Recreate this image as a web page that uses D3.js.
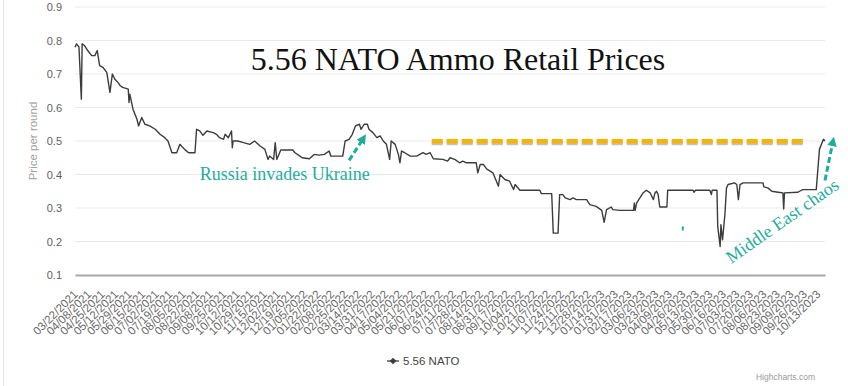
<!DOCTYPE html>
<html>
<head>
<meta charset="utf-8">
<script src="https://cdn.jsdelivr.net/npm/d3@7"></script>
<style>
  html, body { margin: 0; padding: 0; background: #fff; }
  svg { display: block; }
</style>
</head>
<body>
<div id="chart"></div>
<script>
// price per round
const dates = [
  "2021-03-22","2021-03-24","2021-03-27","2021-03-30","2021-03-31","2021-04-03","2021-04-07","2021-04-12",
  "2021-04-16","2021-04-19","2021-04-22","2021-04-26","2021-05-01","2021-05-05","2021-05-08","2021-05-11",
  "2021-05-15","2021-05-18","2021-05-21","2021-05-28","2021-05-29","2021-05-30","2021-06-03","2021-06-08",
  "2021-06-10","2021-06-14","2021-06-18","2021-06-24","2021-07-01","2021-07-07","2021-07-13","2021-07-17",
  "2021-07-22","2021-07-28","2021-08-01","2021-08-07","2021-08-12","2021-08-20","2021-08-22","2021-08-26",
  "2021-08-30","2021-09-04","2021-09-12","2021-09-16","2021-09-20","2021-09-25","2021-09-27","2021-10-01",
  "2021-10-05","2021-10-06","2021-10-07","2021-10-13","2021-10-20","2021-10-28","2021-11-03","2021-11-10",
  "2021-11-16","2021-11-20","2021-11-22","2021-11-27","2021-11-29","2021-12-01","2021-12-06","2021-12-21",
  "2021-12-24","2021-12-30","2022-01-02","2022-01-11","2022-01-17","2022-01-23","2022-01-30","2022-02-03",
  "2022-02-05","2022-02-07","2022-02-22","2022-02-25","2022-03-02","2022-03-06","2022-03-10","2022-03-15",
  "2022-03-17","2022-03-21","2022-03-25","2022-03-27","2022-04-01","2022-04-06","2022-04-10","2022-04-14",
  "2022-04-18","2022-04-22","2022-04-24","2022-04-29","2022-05-03","2022-05-05","2022-05-07","2022-05-11",
  "2022-05-18","2022-05-26","2022-06-03","2022-06-07","2022-06-12","2022-06-16","2022-06-28","2022-07-04",
  "2022-07-07","2022-07-13","2022-07-19","2022-07-23","2022-07-28","2022-08-09","2022-08-11","2022-08-14",
  "2022-08-18","2022-08-22","2022-08-30","2022-09-06","2022-09-08","2022-09-14","2022-09-20","2022-09-25",
  "2022-09-27","2022-10-03","2022-10-28","2022-10-30","2022-11-12","2022-11-14","2022-11-20","2022-11-22",
  "2022-11-26","2022-11-29","2022-12-05","2022-12-09","2022-12-13","2022-12-26","2022-12-30","2023-01-07",
  "2023-01-14","2023-01-17","2023-01-20","2023-01-26","2023-01-28","2023-02-06","2023-02-23","2023-02-24",
  "2023-02-25","2023-02-27","2023-03-03","2023-03-07","2023-03-11","2023-03-16","2023-03-20","2023-03-22",
  "2023-03-24","2023-03-26","2023-03-28","2023-04-06","2023-04-07","2023-05-09","2023-05-10","2023-05-12",
  "2023-05-30","2023-06-01","2023-06-02","2023-06-08","2023-06-09","2023-06-12","2023-06-13","2023-06-15",
  "2023-06-18","2023-06-20","2023-06-22","2023-06-30","2023-07-03","2023-07-05","2023-07-07","2023-07-11",
  "2023-08-05","2023-08-06","2023-08-11","2023-08-16","2023-08-24","2023-08-30","2023-08-31","2023-09-01",
  "2023-09-18","2023-09-20","2023-09-24","2023-10-11","2023-10-15","2023-10-20","2023-10-22"
];
const prices = [
  0.78,0.79,0.78,0.625,0.79,0.785,0.77,0.755,
  0.755,0.77,0.725,0.72,0.705,0.645,0.70,0.685,
  0.675,0.665,0.66,0.655,0.615,0.64,0.595,0.565,
  0.545,0.57,0.55,0.545,0.535,0.52,0.51,0.50,
  0.465,0.465,0.49,0.475,0.465,0.465,0.535,0.53,
  0.517,0.53,0.525,0.52,0.51,0.505,0.52,0.51,
  0.53,0.48,0.50,0.50,0.495,0.49,0.50,0.485,
  0.475,0.445,0.455,0.445,0.495,0.445,0.473,0.473,
  0.465,0.455,0.45,0.447,0.46,0.458,0.46,0.467,
  0.47,0.455,0.455,0.50,0.505,0.52,0.545,0.55,
  0.535,0.55,0.55,0.535,0.525,0.51,0.515,0.50,
  0.49,0.445,0.50,0.49,0.46,0.435,0.47,0.465,
  0.455,0.455,0.465,0.46,0.465,0.447,0.445,0.44,
  0.45,0.445,0.435,0.44,0.435,0.435,0.405,0.43,
  0.43,0.417,0.405,0.365,0.40,0.385,0.38,0.355,
  0.37,0.353,0.353,0.343,0.343,0.225,0.225,0.34,
  0.34,0.33,0.325,0.33,0.325,0.325,0.31,0.305,
  0.293,0.257,0.295,0.303,0.295,0.293,0.293,0.315,
  0.293,0.315,0.33,0.345,0.353,0.345,0.325,0.345,
  0.35,0.34,0.303,0.303,0.353,0.353,0.347,0.353,
  0.353,0.34,0.353,0.353,0.245,0.185,0.25,0.205,
  0.28,0.36,0.37,0.375,0.37,0.325,0.37,0.375,
  0.375,0.363,0.36,0.35,0.347,0.345,0.297,0.345,
  0.347,0.35,0.355,0.355,0.475,0.505,0.50
];

const tickLabels = [
  "03/22/2021","04/08/2021","04/25/2021","05/12/2021","05/29/2021","06/15/2021","07/02/2021","07/19/2021",
  "08/05/2021","08/22/2021","09/08/2021","09/25/2021","10/12/2021","10/29/2021","11/15/2021","12/02/2021",
  "12/19/2021","01/05/2022","01/22/2022","02/08/2022","02/25/2022","03/14/2022","03/31/2022","04/17/2022",
  "05/04/2022","05/21/2022","06/07/2022","06/24/2022","07/11/2022","07/28/2022","08/14/2022","08/31/2022",
  "09/17/2022","10/04/2022","10/21/2022","11/07/2022","11/24/2022","12/11/2022","12/28/2022","01/14/2023",
  "01/31/2023","02/17/2023","03/06/2023","03/23/2023","04/09/2023","04/26/2023","05/13/2023","05/30/2023",
  "06/16/2023","07/03/2023","07/20/2023","08/06/2023","08/23/2023","09/09/2023","09/26/2023","10/13/2023"
];
const yTicks = [0.1, 0.2, 0.3, 0.4, 0.5, 0.6, 0.7, 0.8, 0.9];

const seriesName = "5.56 NATO";
const title = "5.56 NATO Ammo Retail Prices";

// annotations (date, value)
const resistance = { from: "2022-06-14", to: "2023-09-29", value: 0.499 };
const notes = [
  { text: "Russia invades Ukraine", date: "2021-08-26", value: 0.385, angle: 0,
    arrowFrom: ["2022-03-02", 0.442], arrowTo: ["2022-03-20", 0.508] },
  { text: "Middle East chaos", date: "2023-06-26", value: 0.133, angle: -35,
    arrowFrom: ["2023-10-22", 0.382], arrowTo: ["2023-11-01", 0.499] }
];

const width = 848, height = 386;
const margin = { top: 7, right: 23, bottom: 111, left: 75 };
const teal = "#1fad9b";

const parse = d3.timeParse("%Y-%m-%d");
const parseTick = d3.timeParse("%m/%d/%Y");
const data = dates.map((d, i) => ({ date: parse(d), value: prices[i] }));

const svg = d3.select("#chart").append("svg")
  .attr("width", width).attr("height", height)
  .style("font-family", "'Liberation Sans', Arial, sans-serif");

svg.append("rect").attr("width", width).attr("height", height).attr("fill", "#fff");
svg.append("line").attr("x1", 3.5).attr("x2", 3.5).attr("y1", 0).attr("y2", height)
  .attr("stroke", "#e4e4e4");

const x = d3.scaleTime()
  .domain([parse("2021-03-22"), parse("2023-10-22")])
  .range([margin.left, width - margin.right]);

const y = d3.scaleLinear()
  .domain([0.1, 0.9])
  .range([height - margin.bottom, margin.top]);

// grid
svg.append("g")
  .selectAll("line")
  .data(yTicks.slice(1))
  .enter().append("line")
  .attr("x1", margin.left).attr("x2", width - margin.right)
  .attr("y1", d => y(d)).attr("y2", d => y(d))
  .attr("stroke", "#ebebeb").attr("stroke-width", 1);

// y labels
svg.append("g")
  .selectAll("text")
  .data(yTicks)
  .enter().append("text")
  .attr("x", 62).attr("y", d => y(d) + 4)
  .attr("text-anchor", "end")
  .attr("font-size", 11)
  .attr("fill", "#606060")
  .text(d => d3.format(".1f")(d));

svg.append("text")
  .attr("transform", "translate(37," + y(0.5) + ") rotate(-90)")
  .attr("text-anchor", "middle")
  .attr("font-size", 11.5)
  .attr("fill", "#a0a0a0")
  .text("Price per round");

// x axis
const xAxis = svg.append("g")
  .attr("transform", "translate(0," + y(0.1) + ")")
  .call(d3.axisBottom(x)
    .tickValues(tickLabels.map(parseTick))
    .tickFormat(d3.timeFormat("%m/%d/%Y"))
    .tickSize(0));
xAxis.select(".domain").attr("stroke", "#a8a8a8").attr("stroke-width", 2);
xAxis.selectAll("text")
  .attr("font-size", 11.5)
  .attr("fill", "#686868")
  .attr("font-family", "'Liberation Sans', Arial, sans-serif")
  .attr("text-anchor", "end")
  .attr("dy", null)
  .attr("y", 0)
  .attr("transform", "translate(3,20) rotate(-45)");

// title
svg.append("text")
  .attr("x", 458).attr("y", 70)
  .attr("text-anchor", "middle")
  .attr("font-family", "'Liberation Serif', 'Times New Roman', serif")
  .attr("font-size", 32)
  .attr("fill", "#111")
  .text(title);

// resistance dashes (with a soft shadow)
svg.append("line")
  .attr("x1", x(parse(resistance.from))).attr("x2", x(parse(resistance.to)))
  .attr("y1", y(resistance.value) + 2).attr("y2", y(resistance.value) + 2)
  .attr("stroke", "#9a9a9a").attr("stroke-width", 4).attr("stroke-opacity", 0.6)
  .attr("stroke-dasharray", "11,4");
svg.append("line")
  .attr("x1", x(parse(resistance.from))).attr("x2", x(parse(resistance.to)))
  .attr("y1", y(resistance.value)).attr("y2", y(resistance.value))
  .attr("stroke", "#f6b400").attr("stroke-width", 4.5)
  .attr("stroke-dasharray", "11,4");

// price line
const line = d3.line()
  .x(d => x(d.date))
  .y(d => y(d.value));

svg.append("path")
  .datum(data)
  .attr("fill", "none")
  .attr("stroke", "#3c3c3c")
  .attr("stroke-width", 1.4)
  .attr("stroke-linejoin", "round")
  .attr("d", line);

// annotations
svg.append("defs").append("marker")
  .attr("id", "head")
  .attr("viewBox", "0 0 10 10")
  .attr("refX", 5).attr("refY", 5)
  .attr("markerWidth", 3.2).attr("markerHeight", 3.2)
  .attr("markerUnits", "strokeWidth")
  .attr("orient", "auto")
  .append("path")
  .attr("d", "M0,0 L10,5 L0,10 Z")
  .attr("fill", teal);

notes.forEach(n => {
  const px = x(parse(n.date)), py = y(n.value);
  svg.append("text")
    .attr("transform", "translate(" + px + "," + py + ") rotate(" + n.angle + ")")
    .attr("font-family", "'Liberation Serif', 'Times New Roman', serif")
    .attr("font-size", 18)
    .attr("fill", teal)
    .text(n.text);
  svg.append("line")
    .attr("x1", x(parse(n.arrowFrom[0]))).attr("y1", y(n.arrowFrom[1]))
    .attr("x2", x(parse(n.arrowTo[0]))).attr("y2", y(n.arrowTo[1]))
    .attr("stroke", teal).attr("stroke-width", 3)
    .attr("stroke-dasharray", "6,3")
    .attr("marker-end", "url(#head)");
});

// stray teal mark seen in the picture
svg.append("line")
  .attr("x1", x(parse("2023-04-26"))).attr("x2", x(parse("2023-04-26")))
  .attr("y1", y(0.245)).attr("y2", y(0.233))
  .attr("stroke", teal).attr("stroke-width", 2);

// legend
const legend = svg.append("g").attr("transform", "translate(387,361)");
legend.append("line").attr("x1", 0).attr("x2", 12).attr("y1", 0).attr("y2", 0)
  .attr("stroke", "#3c3c3c").attr("stroke-width", 1.3);
legend.append("path").attr("d", d3.symbol().type(d3.symbolDiamond2).size(28)())
  .attr("transform", "translate(6,0)").attr("fill", "#3c3c3c");
legend.append("text").attr("x", 16).attr("y", 4)
  .attr("font-size", 11.5).attr("fill", "#444")
  .text(seriesName);

svg.append("text")
  .attr("x", 815).attr("y", 380)
  .attr("text-anchor", "end")
  .attr("font-size", 8.5)
  .attr("fill", "#999")
  .text("Highcharts.com");
</script>
</body>
</html>
